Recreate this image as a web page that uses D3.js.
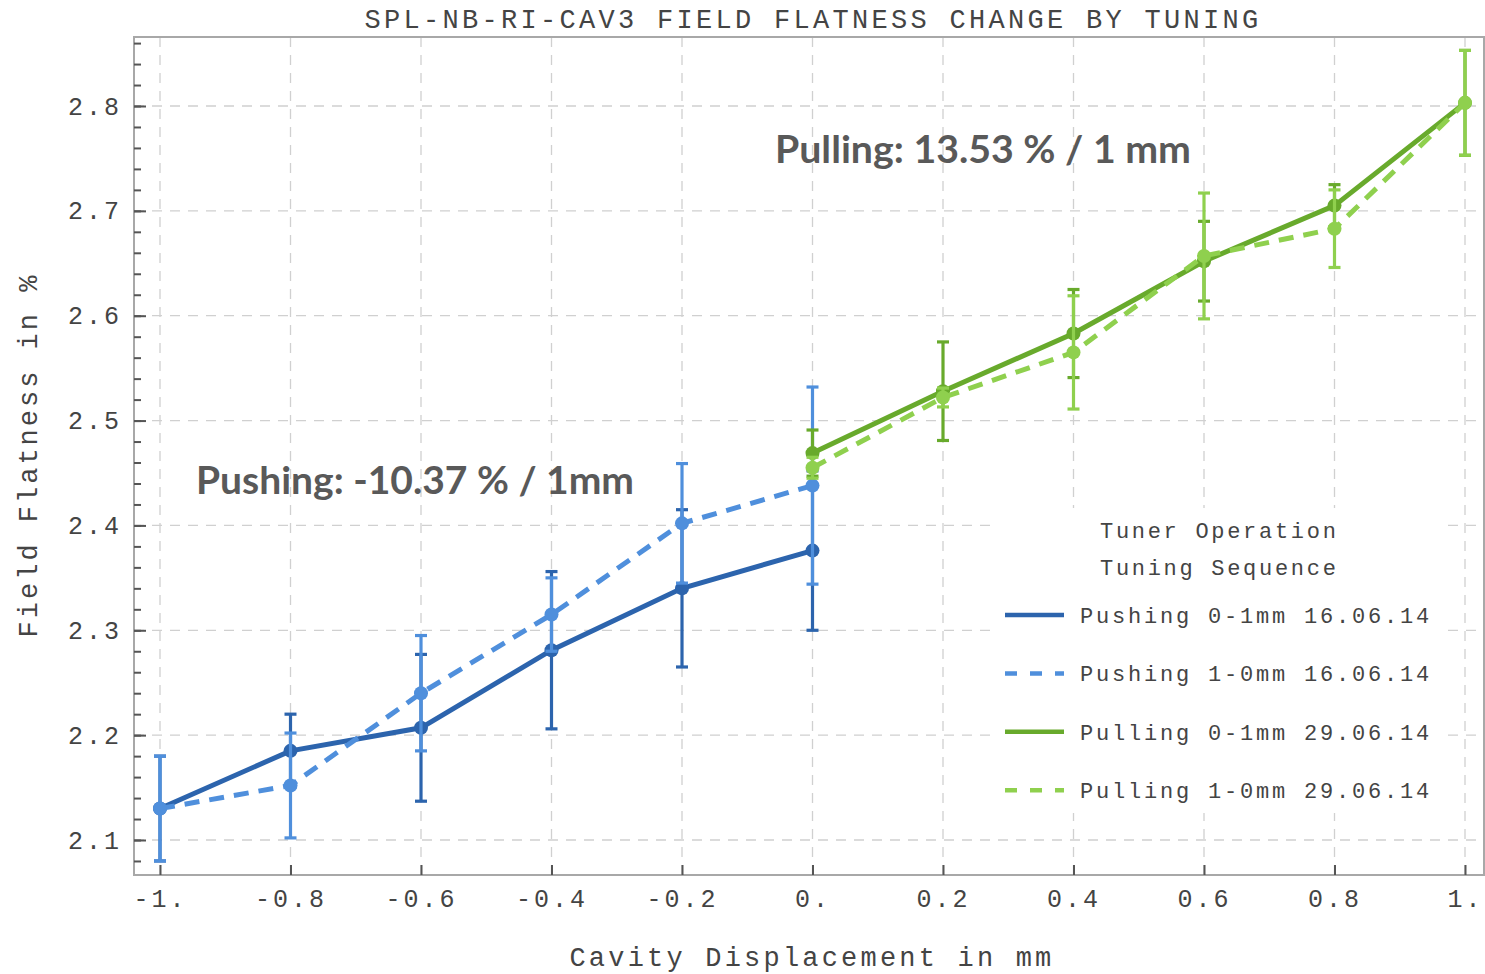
<!DOCTYPE html>
<html>
<head>
<meta charset="utf-8">
<script src="https://cdn.jsdelivr.net/npm/d3@7"></script>
<style>
  body { margin: 0; background: #fff; }
  svg { display: block; }
  .mono { font-family: "Liberation Mono", "DejaVu Sans Mono", monospace; fill: #444; }
</style>
</head>
<body>
<div id="chart"></div>
<script>
'use strict';

var W = 1485, H = 974;

// displacement positions (mm)
var pushX = [-1, -0.8, -0.6, -0.4, -0.2, 0];
var pullX = [0, 0.2, 0.4, 0.6, 0.8, 1];

// field flatness values (%) and error half widths
var push01 = [2.130, 2.185, 2.207, 2.281, 2.340, 2.376];
var push01Err = [0.05, 0.035, 0.07, 0.075, 0.075, 0.076];
var push10 = [2.130, 2.152, 2.240, 2.315, 2.402, 2.438];
var push10Err = [0.05, 0.05, 0.055, 0.035, 0.057, 0.094];
var pull01 = [2.469, 2.528, 2.583, 2.652, 2.705, 2.803];
var pull01Err = [0.022, 0.047, 0.042, 0.038, 0.02, 0.05];
var pull10 = [2.455, 2.522, 2.565, 2.657, 2.683, 2.803];
var pull10Err = [0.01, 0.009, 0.054, 0.06, 0.037, 0.05];

var seriesNames = ["Pushing 0-1mm 16.06.14", "Pushing 1-0mm 16.06.14",
                   "Pulling 0-1mm 29.06.14", "Pulling 1-0mm 29.06.14"];
var seriesColors = ["#2c64ad", "#4f8fdc", "#68aa2c", "#8fd04e"];

var xTicks = [-1, -0.8, -0.6, -0.4, -0.2, 0, 0.2, 0.4, 0.6, 0.8, 1];
var xTickLabels = ["-1.", "-0.8", "-0.6", "-0.4", "-0.2", "0.", "0.2", "0.4", "0.6", "0.8", "1."];
var yTicks = [2.1, 2.2, 2.3, 2.4, 2.5, 2.6, 2.7, 2.8];
var yMinor = d3.range(2.08, 2.861, 0.02);

var FRAME = { LEFT: 134, RIGHT: 1484, TOP: 37, BOTTOM: 875 };

var x = d3.scaleLinear().domain([-1, 1]).range([160, 1465]);
var y = d3.scaleLinear().domain([2.1, 2.8]).range([840, 106]);

var svg = d3.select("#chart").append("svg")
    .attr("width", W)
    .attr("height", H);

// grid
var grid = svg.append("g").attr("id", "grid")
    .attr("stroke", "#d0d0d0")
    .attr("stroke-width", 1.3)
    .attr("stroke-dasharray", "10,8");
grid.selectAll("line.v").data(xTicks).enter().append("line")
    .attr("x1", function (d) { return x(d); })
    .attr("x2", function (d) { return x(d); })
    .attr("y1", FRAME.TOP)
    .attr("y2", FRAME.BOTTOM);
grid.selectAll("line.h").data(yTicks).enter().append("line")
    .attr("x1", FRAME.LEFT)
    .attr("x2", FRAME.RIGHT)
    .attr("y1", function (d) { return y(d); })
    .attr("y2", function (d) { return y(d); });

// frame
svg.append("rect")
    .attr("x", FRAME.LEFT)
    .attr("y", FRAME.TOP)
    .attr("width", FRAME.RIGHT - FRAME.LEFT)
    .attr("height", FRAME.BOTTOM - FRAME.TOP)
    .attr("fill", "none")
    .attr("stroke", "#a8a8a8")
    .attr("stroke-width", 2);

// axes
var yAxis = svg.append("g")
    .attr("transform", "translate(" + FRAME.LEFT + ",0)")
    .call(d3.axisLeft(y).tickValues(yTicks).tickSize(-12).tickPadding(12)
        .tickFormat(d3.format(".1f")));
var yAxisMinor = svg.append("g")
    .attr("transform", "translate(" + FRAME.LEFT + ",0)")
    .call(d3.axisLeft(y).tickValues(yMinor).tickSize(-7).tickFormat(""));
yAxisMinor.select(".domain").remove();
yAxis.select(".domain").remove();

var xAxis = svg.append("g")
    .attr("transform", "translate(0," + FRAME.BOTTOM + ")")
    .call(d3.axisBottom(x).tickValues(xTicks).tickSize(-10).tickPadding(14)
        .tickFormat(function (d, i) { return xTickLabels[i]; }));
xAxis.select(".domain").remove();

svg.selectAll(".tick line").attr("stroke", "#555").attr("stroke-width", 2);
svg.selectAll(".tick text")
    .attr("class", "mono")
    .style("font-size", "25px")
    .style("letter-spacing", "3px");

// title and axis labels
svg.append("text")
    .attr("class", "mono")
    .attr("x", 813)
    .attr("y", 28)
    .attr("text-anchor", "middle")
    .style("font-size", "27px")
    .style("letter-spacing", "3.3px")
    .text("SPL-NB-RI-CAV3 FIELD FLATNESS CHANGE BY TUNING");

svg.append("text")
    .attr("class", "mono")
    .attr("x", 812)
    .attr("y", 966)
    .attr("text-anchor", "middle")
    .style("font-size", "27px")
    .style("letter-spacing", "3.2px")
    .text("Cavity Displacement in mm");

svg.append("text")
    .attr("class", "mono")
    .attr("transform", "translate(37,455) rotate(-90)")
    .attr("text-anchor", "middle")
    .style("font-size", "27px")
    .style("letter-spacing", "3px")
    .text("Field Flatness in %");

// series
var series = [
    { xs: pushX, ys: push01, err: push01Err, dash: null },
    { xs: pushX, ys: push10, err: push10Err, dash: "15,10" },
    { xs: pullX, ys: pull01, err: pull01Err, dash: null },
    { xs: pullX, ys: pull10, err: pull10Err, dash: "15,10" }
];

var line = d3.line()
    .x(function (d) { return x(d[0]); })
    .y(function (d) { return y(d[1]); });

series.forEach(function (s, k) {
    var pts = s.xs.map(function (v, i) { return [v, s.ys[i], s.err[i]]; });
    var g = svg.append("g").attr("id", "series-" + k);
    var col = seriesColors[k];

    var eb = g.append("g").attr("stroke", col).attr("stroke-width", 3.2);
    eb.selectAll("line.bar").data(pts).enter().append("line")
        .attr("x1", function (d) { return x(d[0]); })
        .attr("x2", function (d) { return x(d[0]); })
        .attr("y1", function (d) { return y(d[1] - d[2]); })
        .attr("y2", function (d) { return y(d[1] + d[2]); });
    [1, -1].forEach(function (sgn) {
        eb.selectAll("line.cap" + sgn).data(pts).enter().append("line")
            .attr("x1", function (d) { return x(d[0]) - 6; })
            .attr("x2", function (d) { return x(d[0]) + 6; })
            .attr("y1", function (d) { return y(d[1] + sgn * d[2]); })
            .attr("y2", function (d) { return y(d[1] + sgn * d[2]); });
    });

    g.append("path")
        .datum(pts)
        .attr("d", line)
        .attr("fill", "none")
        .attr("stroke", col)
        .attr("stroke-width", 5)
        .attr("stroke-dasharray", s.dash);

    g.selectAll("circle").data(pts).enter().append("circle")
        .attr("cx", function (d) { return x(d[0]); })
        .attr("cy", function (d) { return y(d[1]); })
        .attr("r", 7)
        .attr("fill", col);
});

// legend
var legend = svg.append("g").attr("id", "legend");
legend.append("rect")
    .attr("x", 992).attr("y", 508)
    .attr("width", 450).attr("height", 305)
    .attr("fill", "#fff");
legend.append("text")
    .attr("class", "mono")
    .attr("x", 1100).attr("y", 538)
    .style("font-size", "22px").style("letter-spacing", "2.7px")
    .text("Tuner Operation");
legend.append("text")
    .attr("class", "mono")
    .attr("x", 1100).attr("y", 575)
    .style("font-size", "22px").style("letter-spacing", "2.7px")
    .text("Tuning Sequence");

var rows = legend.selectAll("g.row").data(seriesNames).enter().append("g")
    .attr("transform", function (d, i) { return "translate(0," + (615 + i * 58.4) + ")"; });
rows.append("line")
    .attr("x1", 1005).attr("x2", 1064)
    .attr("y1", 0).attr("y2", 0)
    .attr("stroke", function (d, i) { return seriesColors[i]; })
    .attr("stroke-width", 4.5)
    .attr("stroke-dasharray", function (d, i) { return series[i].dash ? "12,13" : null; });
rows.append("text")
    .attr("class", "mono")
    .attr("x", 1080).attr("y", 8)
    .style("font-size", "22px").style("letter-spacing", "2.8px")
    .text(function (d) { return d; });

// slope annotations
svg.append("text")
    .attr("x", 775).attr("y", 163)
    .attr("font-family", "Lato, 'Open Sans', sans-serif")
    .attr("font-weight", 700)
    .attr("font-size", 38)
    .attr("fill", "#595959")
    .attr("textLength", 416)
    .attr("lengthAdjust", "spacingAndGlyphs")
    .text("Pulling: 13.53 % / 1 mm");
svg.append("text")
    .attr("x", 196).attr("y", 494)
    .attr("font-family", "Lato, 'Open Sans', sans-serif")
    .attr("font-weight", 700)
    .attr("font-size", 38)
    .attr("fill", "#595959")
    .attr("textLength", 438)
    .attr("lengthAdjust", "spacingAndGlyphs")
    .text("Pushing: -10.37 % / 1mm");
</script>
</body>
</html>
